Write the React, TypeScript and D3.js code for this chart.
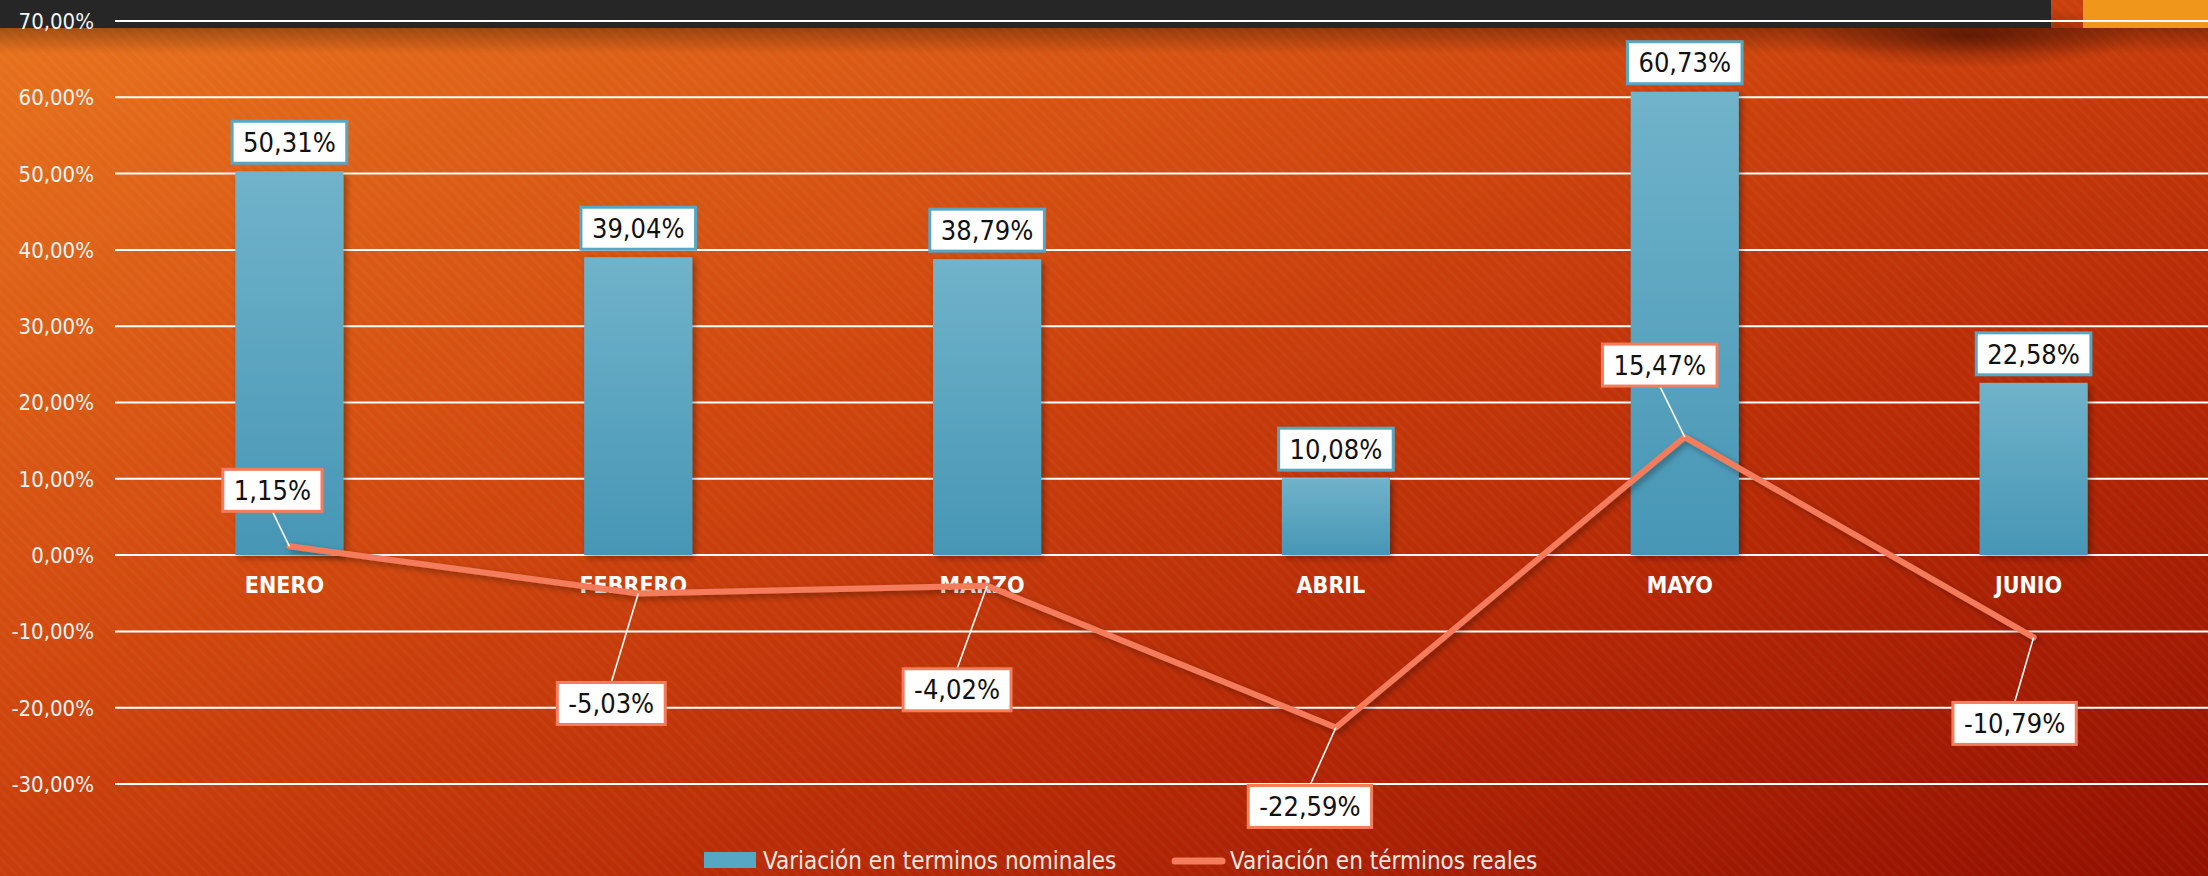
import { useMemo } from "react";
import * as d3 from "d3";

const months = ["ENERO", "FEBRERO", "MARZO", "ABRIL", "MAYO", "JUNIO"];
const nominal = [50.31, 39.04, 38.79, 10.08, 60.73, 22.58];
const real = [1.15, -5.03, -4.02, -22.59, 15.47, -10.79];
const yTicks = [-30, -20, -10, 0, 10, 20, 30, 40, 50, 60, 70];
const seriesNames = ["Variación en terminos nominales", "Variación en términos reales"];

// where each line label sits, relative to its point
const realLabelOffsets = [
    [-17, -56],
    [-27, 110],
    [-30, 104],
    [-26, 79],
    [-25, -72],
    [-19, 86],
];

const W = 2208;
const H = 876;
const FONT = "'DejaVu Sans Condensed', 'DejaVu Sans', sans-serif";
const BLUE = "#55a7c4";
const CORAL = "#f47c5c";

const fmt = (v: number) => v.toFixed(2).replace(".", ",") + "%";

function textWidth(text: string, size: number) {
    const ctx = document.createElement("canvas").getContext("2d");
    if (!ctx) return text.length * size * 0.55;
    ctx.font = `${size}px ${FONT}`;
    return ctx.measureText(text).width;
}

function LabelBox({ cx, cy, text, stroke }: { cx: number; cy: number; text: string; stroke: string }) {
    const size = 27;
    const w = textWidth(text, size) + 22;
    const h = 42;
    return (
        <g>
            <rect x={cx - w / 2} y={cy - h / 2} width={w} height={h} fill="#fff" stroke={stroke} strokeWidth={3} />
            <text x={cx} y={cy} dy="0.36em" textAnchor="middle" fontSize={size} fontFamily={FONT} fill="#111">
                {text}
            </text>
        </g>
    );
}

export default function App() {
    const x = useMemo(() => d3.scaleBand<string>().domain(months).range([115, W]).padding(0), []);
    const y = useMemo(() => d3.scaleLinear().domain([-30, 70]).range([784, 21]), []);
    const barW = x.bandwidth() * 0.31;
    const cx = (m: string) => (x(m) ?? 0) + x.bandwidth() / 2;

    const linePath = d3
        .line<number>()
        .x((_, i) => cx(months[i]))
        .y((d) => y(d))(real) || undefined;

    return (
        <svg width={W} height={H} style={{ position: "absolute", left: 0, top: 0 }}>
            <defs>
                <linearGradient id="bg" x1="0" y1="0" x2="1" y2="1">
                    <stop offset="0%" stopColor="#e8741e" />
                    <stop offset="40%" stopColor="#d0470e" />
                    <stop offset="70%" stopColor="#b52805" />
                    <stop offset="100%" stopColor="#921000" />
                </linearGradient>
                <linearGradient id="bar" x1="0" y1="0" x2="0" y2="1">
                    <stop offset="0%" stopColor="#70b3ca" />
                    <stop offset="100%" stopColor="#4696b5" />
                </linearGradient>
                <linearGradient id="topShade" x1="0" y1="0" x2="0" y2="1">
                    <stop offset="0%" stopColor="#000" stopOpacity={0.3} />
                    <stop offset="100%" stopColor="#000" stopOpacity={0} />
                </linearGradient>
                <radialGradient id="blob" cx="0.5" cy="0.5" r="0.5">
                    <stop offset="0%" stopColor="#3a0a00" stopOpacity={0.6} />
                    <stop offset="100%" stopColor="#3a0a00" stopOpacity={0} />
                </radialGradient>
                <pattern id="stripes" width={8} height={8} patternUnits="userSpaceOnUse" patternTransform="rotate(-45)">
                    <rect width={3} height={8} fill="#fff" opacity={0.028} />
                </pattern>
                <filter id="shadow" x="-20%" y="-20%" width="140%" height="140%">
                    <feDropShadow dx={3} dy={3} stdDeviation={3} floodColor="#000" floodOpacity={0.35} />
                </filter>
            </defs>

            <rect width={W} height={H} fill="url(#bg)" />
            <rect width={W} height={H} fill="url(#stripes)" />
            <rect x={0} y={28} width={W} height={26} fill="url(#topShade)" />
            <ellipse cx={1970} cy={36} rx={170} ry={32} fill="url(#blob)" />
            <rect x={0} y={0} width={2051} height={28} fill="#262626" />
            <rect x={2083} y={0} width={125} height={28} fill="#f0961a" />

            {yTicks.map((t) => (
                <g key={t}>
                    <line x1={115} x2={W} y1={y(t)} y2={y(t)} stroke="#fff" strokeWidth={2} />
                    <text
                        x={94}
                        y={y(t)}
                        dy="0.36em"
                        textAnchor="end"
                        fontSize={22}
                        fontFamily={FONT}
                        fill="#f4f4f4"
                    >
                        {fmt(t)}
                    </text>
                </g>
            ))}

            {months.map((m, i) => (
                <rect
                    key={m}
                    x={cx(m) - barW / 2}
                    y={y(nominal[i])}
                    width={barW}
                    height={y(0) - y(nominal[i])}
                    fill="url(#bar)"
                    filter="url(#shadow)"
                />
            ))}

            {months.map((m) => (
                <text
                    key={m}
                    x={cx(m) - 5}
                    y={593}
                    textAnchor="middle"
                    fontSize={23}
                    fontWeight="bold"
                    fontFamily={FONT}
                    fill="#fff"
                >
                    {m}
                </text>
            ))}

            <path
                d={linePath}
                fill="none"
                stroke={CORAL}
                strokeWidth={6}
                strokeLinejoin="round"
                strokeLinecap="round"
                filter="url(#shadow)"
            />

            {months.map((m, i) => (
                <LabelBox key={m} cx={cx(m)} cy={y(nominal[i]) - 29} text={fmt(nominal[i])} stroke={BLUE} />
            ))}

            {months.map((m, i) => {
                const px = cx(m);
                const py = y(real[i]);
                const [dx, dy] = realLabelOffsets[i];
                const ey = py + dy + (dy < 0 ? 21 : -21);
                return (
                    <g key={m}>
                        <line x1={px} y1={py} x2={px + dx} y2={ey} stroke="#fff" strokeWidth={1.6} />
                        <LabelBox cx={px + dx} cy={py + dy} text={fmt(real[i])} stroke={CORAL} />
                    </g>
                );
            })}

            <g fontFamily={FONT} fontSize={24} fill="#f3e8e2">
                <rect x={704} y={852} width={52} height={16} fill={BLUE} />
                <text x={763} y={869}>{seriesNames[0]}</text>
                <line x1={1175} x2={1222} y1={861} y2={861} stroke={CORAL} strokeWidth={7} strokeLinecap="round" />
                <text x={1230} y={869}>{seriesNames[1]}</text>
            </g>
        </svg>
    );
}
